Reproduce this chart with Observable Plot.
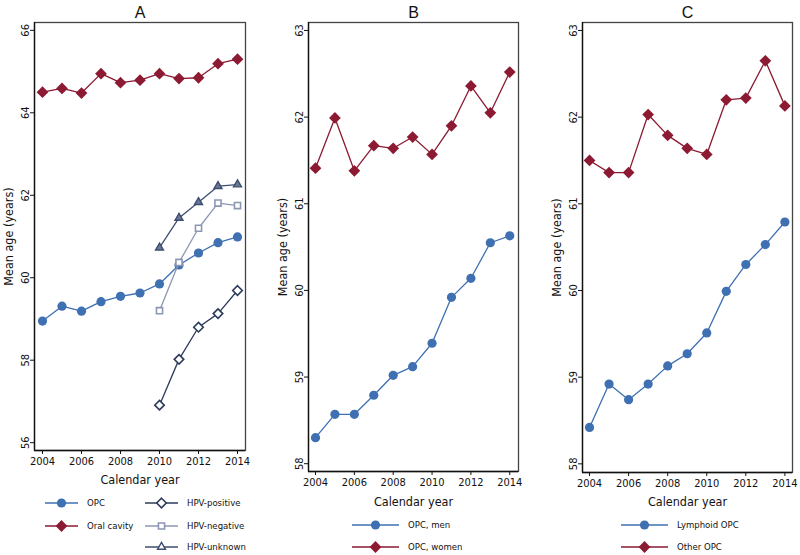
<!DOCTYPE html>
<html><head><meta charset="utf-8">
<script src="https://cdn.jsdelivr.net/npm/d3@7"></script>
<script src="https://cdn.jsdelivr.net/npm/@observablehq/plot@0.6"></script>
<style>
html,body{margin:0;padding:0;background:#fff;}
#wrap{position:relative;width:800px;height:555px;overflow:hidden;}
.panel{position:absolute;top:0;}
#legend{position:absolute;left:0;top:0;}
</style></head>
<body><div id="wrap"></div>
<script>
const years = [2004,2005,2006,2007,2008,2009,2010,2011,2012,2013,2014];
const hpvYears = [2010,2011,2012,2013,2014];
// Panel A
const opcA = [58.95,59.31,59.19,59.42,59.55,59.63,59.85,60.31,60.60,60.85,60.99];
const oralA = [64.50,64.59,64.48,64.95,64.73,64.79,64.95,64.83,64.85,65.19,65.30];
const hpvPos = [56.91,58.02,58.80,59.13,59.69];
const hpvNeg = [59.20,60.37,61.20,61.81,61.75];
const hpvUnk = [60.73,61.45,61.83,62.22,62.26];
// Panel B
const opcMen = [58.30,58.57,58.57,58.79,59.02,59.12,59.39,59.92,60.14,60.55,60.63];
const opcWomen = [61.41,61.99,61.38,61.67,61.64,61.77,61.57,61.90,62.36,62.05,62.52];
// Panel C
const lymphoid = [58.42,58.92,58.74,58.92,59.13,59.27,59.51,59.99,60.30,60.53,60.79];
const otherOPC = [61.50,61.36,61.36,62.03,61.79,61.64,61.57,62.20,62.22,62.65,62.13];

const xTicks = [2004,2006,2008,2010,2012,2014];
const yTicksA = [56,58,60,62,64,66];
const yTicksBC = [58,59,60,61,62,63];

const BLUE = "#3e70b2", RED = "#8b1a32", NAVY = "#2c3b5a", GREYBLUE = "#8d97b3", SLATE = "#3e4e70";
const NARROW = "'Liberation Sans Narrow','Arial Narrow','DejaVu Sans Condensed',sans-serif";

const toRows = (xs, ys) => xs.map((x, i) => ({x, y: ys[i]}));

function series(xs, ys, o) {
  const rows = toRows(xs, ys);
  return [
    Plot.line(rows, {x: "x", y: "y", stroke: o.line, strokeWidth: 1.3}),
    Plot.dot(rows, {x: "x", y: "y", symbol: o.symbol, r: o.r, fill: o.fill, stroke: o.stroke, strokeWidth: o.sw || 0})
  ];
}

function panel(opts) {
  const {left, width, height, mt, mb, ml, mr, xDomain, yDomain, yTicks, title, seriesList, xlabDy} = opts;
  const chart = Plot.plot({
    width, height,
    marginTop: mt, marginBottom: mb, marginLeft: ml, marginRight: mr,
    style: {fontFamily: NARROW, fontSize: "11px", color: "#111", background: "#fff"},
    x: {domain: xDomain},
    y: {domain: yDomain},
    marks: [
      Plot.frame({stroke: "#444", strokeWidth: 1.3}),
      Plot.axisX({ticks: xTicks, tickFormat: d => String(d), tickSize: 4, tickPadding: 3, label: null, fontSize: 11}),
      Plot.axisY({ticks: yTicks, tickFormat: d => String(d), tickSize: 4, tickPadding: 2, tickRotate: -90, label: null, fontSize: 11}),
      Plot.ruleX([xDomain[0]], {stroke: "#111", strokeWidth: 1.3}),
      Plot.ruleY([yDomain[0]], {stroke: "#111", strokeWidth: 1.3}),
      ...seriesList.flatMap(s => series(s.xs, s.ys, s)),
      Plot.text([title], {frameAnchor: "top", lineAnchor: "middle", dy: -10, fontSize: 16, fontFamily: "'Liberation Sans',Arial,sans-serif", fill: "#111"}),
      Plot.text(["Calendar year"], {frameAnchor: "bottom", lineAnchor: "middle", textAnchor: "middle", dy: xlabDy, fontSize: 12.5, fill: "#111"}),
      Plot.text(["Mean age (years)"], {frameAnchor: "left", textAnchor: "middle", lineAnchor: "middle", dx: -26, rotate: -90, fontSize: 12.5, fill: "#111"})
    ]
  });
  const div = document.createElement("div");
  div.className = "panel";
  div.style.left = left + "px";
  div.appendChild(chart);
  document.getElementById("wrap").appendChild(div);
}

const circ = {symbol: "circle", r: 4.6, fill: BLUE, line: BLUE};
const diam = {symbol: "diamond2", r: 5.3, fill: RED, line: RED};

panel({left: 0, width: 265, height: 495, mt: 22, mb: 45, ml: 34, mr: 20, xlabDy: 29,
  xDomain: [2003.59, 2014.41], yDomain: [55.81, 66.19], yTicks: yTicksA, title: "A",
  seriesList: [
    {xs: years, ys: opcA, ...circ},
    {xs: years, ys: oralA, ...diam},
    {xs: hpvYears, ys: hpvPos, symbol: "diamond2", r: 4.3, fill: "#fff", stroke: NAVY, sw: 1.6, line: NAVY},
    {xs: hpvYears, ys: hpvNeg, symbol: "square2", r: 3.9, fill: "#fff", stroke: GREYBLUE, sw: 1.6, line: GREYBLUE},
    {xs: hpvYears, ys: hpvUnk, symbol: "triangle2", r: 3.8, fill: "#6b7795", stroke: SLATE, sw: 1.4, line: SLATE}
  ]});

panel({left: 265, width: 270, height: 516, mt: 22, mb: 45, ml: 43, mr: 17, xlabDy: 30,
  xDomain: [2003.64, 2014.45], yDomain: [57.91, 63.092], yTicks: yTicksBC, title: "B",
  seriesList: [
    {xs: years, ys: opcMen, ...circ},
    {xs: years, ys: opcWomen, ...diam}
  ]});

panel({left: 535, width: 265, height: 517, mt: 22, mb: 45, ml: 47, mr: 8, xlabDy: 29,
  xDomain: [2003.64, 2014.39], yDomain: [57.90, 63.092], yTicks: yTicksBC, title: "C",
  seriesList: [
    {xs: years, ys: lymphoid, ...circ},
    {xs: years, ys: otherOPC, ...diam}
  ]});

// Legends
const legendItems = [
  {x1: 45, x2: 78, y: 503, label: "OPC", ...circ},
  {x1: 45, x2: 78, y: 526, label: "Oral cavity", ...diam},
  {x1: 145, x2: 178, y: 503, label: "HPV-positive", symbol: "diamond2", r: 4.3, fill: "#fff", stroke: NAVY, sw: 1.6, line: NAVY},
  {x1: 145, x2: 178, y: 526, label: "HPV-negative", symbol: "square2", r: 3.9, fill: "#fff", stroke: GREYBLUE, sw: 1.6, line: GREYBLUE},
  {x1: 145, x2: 178, y: 547, label: "HPV-unknown", symbol: "triangle2", r: 3.8, fill: "#fff", stroke: SLATE, sw: 1.4, line: SLATE},
  {x1: 352, x2: 399, y: 525, label: "OPC, men", ...circ},
  {x1: 352, x2: 399, y: 547, label: "OPC, women", ...diam},
  {x1: 621, x2: 668, y: 525, label: "Lymphoid OPC", ...circ},
  {x1: 621, x2: 668, y: 547, label: "Other OPC", ...diam}
];
const symMap = {circle: d3.symbolCircle, diamond2: d3.symbolDiamond2, square2: d3.symbolSquare2, triangle2: d3.symbolTriangle2};
const svg = d3.select("#wrap").append("svg").attr("id", "legend").attr("width", 800).attr("height", 555)
  .style("position", "absolute").style("left", 0).style("top", 0);
for (const it of legendItems) {
  const g = svg.append("g");
  g.append("line").attr("x1", it.x1).attr("x2", it.x2).attr("y1", it.y).attr("y2", it.y)
    .attr("stroke", it.line).attr("stroke-width", 1.3);
  g.append("path").attr("transform", `translate(${(it.x1 + it.x2) / 2},${it.y})`)
    .attr("d", d3.symbol(symMap[it.symbol], Math.PI * it.r * it.r)())
    .attr("fill", it.fill).attr("stroke", it.stroke || "none").attr("stroke-width", it.sw || 0);
  g.append("text").attr("x", it.x2 + 9).attr("y", it.y).attr("dy", "0.35em")
    .attr("font-family", NARROW).attr("font-size", 9.5).attr("fill", "#111").text(it.label);
}
</script></body></html>
